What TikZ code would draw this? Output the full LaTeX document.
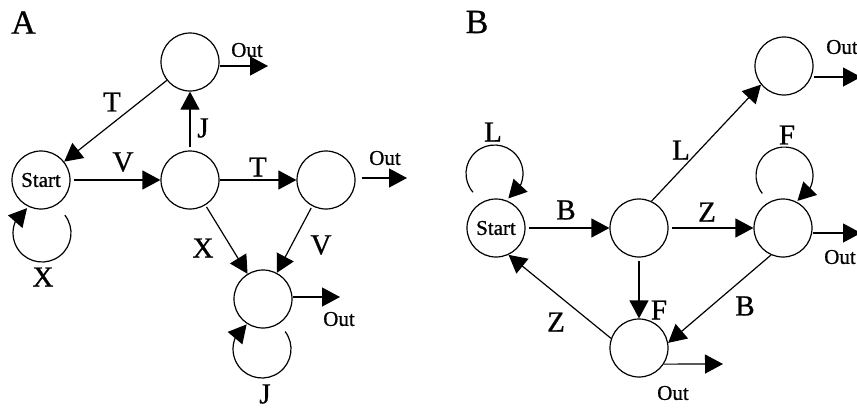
\documentclass[tikz,border=0pt]{standalone}
\usepackage{fontspec}
\setmainfont{Liberation Serif}[FakeBold=0.8]
\usetikzlibrary{arrows.meta,bending,calc}
\begin{document}
\begin{tikzpicture}[x=1pt,y=-1pt,
  state/.style={draw,circle,line width=1.2pt,minimum size=58pt,inner sep=0pt,
    font=\fontsize{21}{21}\selectfont},
  arr/.style={line width=1.2pt,-{Triangle[length=18pt,width=19pt]}},
  lbl/.style={inner sep=0pt,font=\fontsize{29}{29}\selectfont},
  outlbl/.style={inner sep=0pt,font=\fontsize{21}{21}\selectfont},
  panel/.style={inner sep=0pt,font=\fontsize{34}{34}\selectfont}]
\useasboundingbox (0,0) rectangle (857,408);
% ---------------- Panel A
\node[panel] (pA) at (23.5,22.5) {A};
\node[state] (sA) at (41,180) {Start};
\node[state] (tA) at (190,62) {};
\node[state] (mA) at (190,180) {};
\node[state] (rA) at (326,180) {};
\node[state] (bA) at (263,299) {};
\draw[arr] (tA) -- (sA);
\draw[arr,shorten <=3pt] (sA) -- (mA);
\draw[arr,shorten <=3pt] (mA) -- (tA);
\draw[arr] (mA) -- (rA);
\draw[arr,shorten <=2pt] (mA) -- (bA);
\draw[arr,shorten <=2pt] (rA) -- (bA);
\coordinate (oA1) at (268,66);
\coordinate (oA2) at (407,178);
\coordinate (oA3) at (340,297);
\draw[arr] (tA.east |- oA1) -- (oA1);
\draw[arr,shorten <=6pt] (rA.east |- oA2) -- (oA2);
\draw[arr] (bA.east |- oA3) -- (oA3);
\draw[arr] ($(sA)+(1,53)+(-38:29)$) arc[start angle=-38,end angle=239,radius=29];
\draw[arr] ($(bA)+(-1,50)+(-37:29)$) arc[start angle=-37,end angle=238,radius=29];
\node[lbl] (lT1) at (112,102) {T};
\node[lbl] (lV1) at (123,162) {V};
\node[lbl] (lJ1) at (203,128) {J};
\node[lbl] (lT2) at (258,167) {T};
\node[lbl] (lX1) at (203,248) {X};
\node[lbl] (lV2) at (321,245) {V};
\node[lbl] (lX2) at (43,277) {X};
\node[lbl] (lJ2) at (265,394) {J};
\node[outlbl] (oa1) at (247,50) {Out};
\node[outlbl] (oa2) at (385,158) {Out};
\node[outlbl] (oa3) at (339,319) {Out};
% ---------------- Panel B
\node[panel] (pB) at (477,22) {B};
\node[state] (sB) at (496,228) {Start};
\node[state] (mB) at (639,228) {};
\node[state] (trB) at (784,66) {};
\node[state] (rB) at (783,228) {};
\node[state] (bB) at (639,348) {};
\draw[arr,shorten <=3pt] (sB) -- (mB);
\draw[arr,shorten <=3pt] (mB) -- (rB);
\draw[arr] (mB.65) -- (trB.-141);
\draw[arr,shorten <=3pt] (mB) -- (bB);
\draw[arr] (rB.-114) -- (bB.10);
\draw[arr] (bB.161) -- (sB.-65);
\coordinate (oB1) at (861,77);
\coordinate (oB2) at (861,233);
\coordinate (oB3) at (723,364);
\draw[arr] (trB.east |- oB1) -- (oB1);
\draw[arr] (rB.east |- oB2) -- (oB2);
\draw[arr] (bB.-33) -- (oB3);
\draw[arr] ($(sB)+(-1.5,-54.5)+(139:28.5)$) arc[start angle=139,end angle=421,radius=28.5];
\draw[arr] ($(rB)+(1.5,-52.5)+(141:28.5)$) arc[start angle=141,end angle=423,radius=28.5];
\node[lbl] (lL1) at (493,132) {L};
\node[lbl] (lB1) at (566,210) {B};
\node[lbl] (lZ1) at (707,212) {Z};
\node[lbl] (lL2) at (681,150) {L};
\node[lbl] (lF1) at (659,310) {F};
\node[lbl] (lB2) at (745,306) {B};
\node[lbl] (lZ2) at (556,322) {Z};
\node[lbl] (lF2) at (787,135) {F};
\node[outlbl] (ob1) at (842,47) {Out};
\node[outlbl] (ob2) at (840,257) {Out};
\node[outlbl] (ob3) at (673,393) {Out};
\end{tikzpicture}
\end{document}
